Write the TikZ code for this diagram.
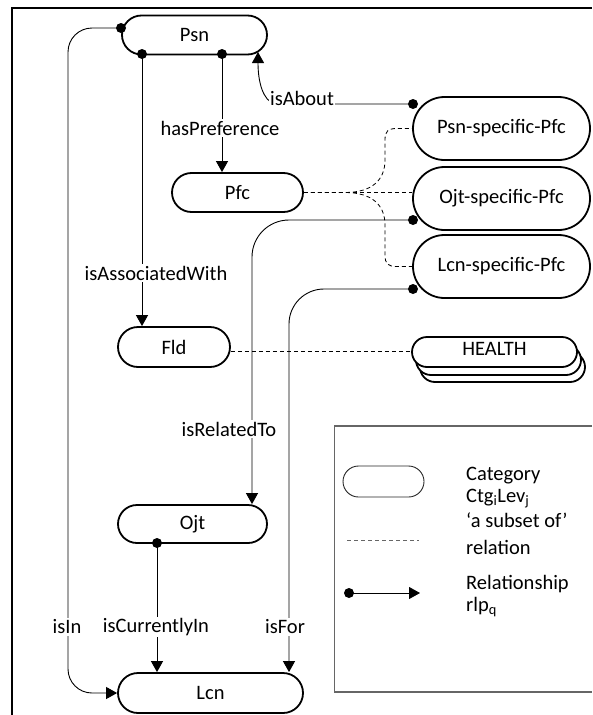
\documentclass[tikz,border=0pt]{standalone}
\usepackage{fontspec}
\setmainfont{Carlito}
\usetikzlibrary{shapes.misc,arrows.meta,calc}
\newcommand\diafont{\fontsize{20.5}{24}\selectfont}

\begin{document}
\begin{tikzpicture}[x=1pt,y=-1pt,
  every node/.style={font=\diafont},
  cat/.style={rounded rectangle, draw, line width=1.8pt, inner sep=0pt},
  rel/.style={line width=0.9pt, -{Triangle[length=11pt,width=12pt]}},
  subrel/.style={line width=0.8pt, dash pattern=on 4pt off 3pt},
  lbl/.style={fill=white, inner sep=1.5pt},
  dotn/.style={circle, fill, inner sep=0pt, minimum size=10pt},
  legtext/.style={anchor=base west, inner sep=0pt}
]
\useasboundingbox (0,0) rectangle (592,715);

% frame
\draw[line width=2.5pt] (12.2,715) -- (12.2,7.8) -- (592,7.8);

% categories
\node[cat, minimum width=145pt, minimum height=39pt] (Psn) at (194.5,35) {Psn};
\node[cat, minimum width=131pt, minimum height=39pt] (Pfc) at (237.5,192.5) {Pfc};
\node[cat, minimum width=112pt, minimum height=40pt] (Fld) at (174,347) {Fld};
\node[cat, minimum width=149pt, minimum height=38pt] (Ojt) at (192.5,524) {Ojt};
\node[cat, minimum width=185pt, minimum height=40pt] (Lcn) at (210.5,693) {Lcn};
\node[cat, minimum width=177pt, minimum height=63pt] (PsnPfc) at (501.5,128.5) {Psn-specific-Pfc};
\node[cat, minimum width=177pt, minimum height=63pt] (OjtPfc) at (501.5,198.5) {Ojt-specific-Pfc};
\node[cat, minimum width=177pt, minimum height=63pt] (LcnPfc) at (501.5,266.5) {Lcn-specific-Pfc};

% stacked HEALTH category
\node[cat, fill=white, minimum width=165pt, minimum height=30pt] (Health3) at (502.5,367) {};
\node[cat, fill=white, minimum width=165pt, minimum height=30pt] (Health2) at (498.5,360) {};
\node[cat, fill=white, minimum width=165pt, minimum height=30pt] (Health) at (494.5,352) {};
\node (HealthText) at (494.5,349) {HEALTH};

% connection points
\coordinate (psnL) at (121,28);
\coordinate (psnA) at (142,54);
\coordinate (psnP) at (222,54);
\coordinate (psnAb) at (258,52);
\coordinate (aboutS) at (413,104);
\coordinate (relS) at (413,220);
\coordinate (forS) at (413,289);
\coordinate (curS) at (157,543);
\coordinate (inX) at (68,0);
\coordinate (relX) at (252,0);
\coordinate (forX) at (289,0);
\coordinate (fldE) at ($(Fld.east)+(0,4)$);

% 'a subset of' relations
\draw[subrel] (Pfc.east) -- (Pfc.east -| OjtPfc.west);
\draw[subrel] (Pfc.east) -- (345,192.5) .. controls (372,192.5) and (385,180) .. (385,160)
  -- (385,140) .. controls (385,131) and (388,128.5) .. (397,128.5) -- (PsnPfc.west);
\draw[subrel] (Pfc.east) -- (345,192.5) .. controls (372,192.5) and (385,205) .. (385,225)
  -- (385,255) .. controls (385,264) and (388,266.5) .. (397,266.5) -- (LcnPfc.west);
\draw[subrel] (fldE) -- (fldE -| Health.west);

% relationships
\draw[rel, rounded corners=24pt] (psnL) -| (Lcn.west -| inX) -- (Lcn.west);
\draw[rel] (psnA) -- (psnA |- Fld.north);
\draw[rel] (psnP) -- (psnP |- Pfc.north);
\draw[rel] (aboutS) -- (275,104) .. controls (263,101) and (258,82) .. (psnAb);
\draw[rel, rounded corners=37pt] (relS) -| (Ojt.north -| relX);
\draw[rel, rounded corners=35pt] (forS) -| (Lcn.north -| forX);
\draw[rel] (curS) -- (curS |- Lcn.north);

\foreach \p in {psnL,psnA,psnP,aboutS,relS,forS,curS}
  \node[dotn] at (\p) {};

% relationship labels
\node[lbl] (lIn) at (67,627) {isIn};
\node[lbl] (lAssoc) at (156,273) {isAssociatedWith};
\node[lbl] (lPref) at (220,128) {hasPreference};
\node[lbl] (lAbout) at (302,98) {isAbout};
\node[lbl] (lRel) at (229,429) {isRelatedTo};
\node[lbl] (lFor) at (285,627) {isFor};
\node[lbl] (lCur) at (156,627) {isCurrentlyIn};

% legend
\draw[black!60, line width=1.3pt] (592,426) -- (334.5,426) -- (334.5,692) -- (592,692);
\node[rounded rectangle, draw=black!85, line width=0.9pt, inner sep=0pt,
  minimum width=81pt, minimum height=31pt] (legCat) at (383.5,481.5) {};
\coordinate (legDa) at (347,540);
\coordinate (legDb) at (419,540);
\draw[subrel, black!60] (legDa) -- (legDb);
\coordinate (legRa) at (349,593);
\coordinate (legRb) at (420,593);
\draw[rel] (legRa) -- (legRb);
\node[dotn] at (legRa) {};
\node[legtext] (t1) at (466,480) {Category};
\node[legtext] (t2) at (466,502) {Ctg\textsubscript{i}Lev\textsubscript{j}};
\node[legtext] (t3) at (466,527) {‘a subset of’};
\node[legtext] (t4) at (466,554) {relation};
\node[legtext] (t5) at (466,589) {Relationship};
\node[legtext] (t6) at (466,611) {rlp\textsubscript{q}};
\end{tikzpicture}
\end{document}
